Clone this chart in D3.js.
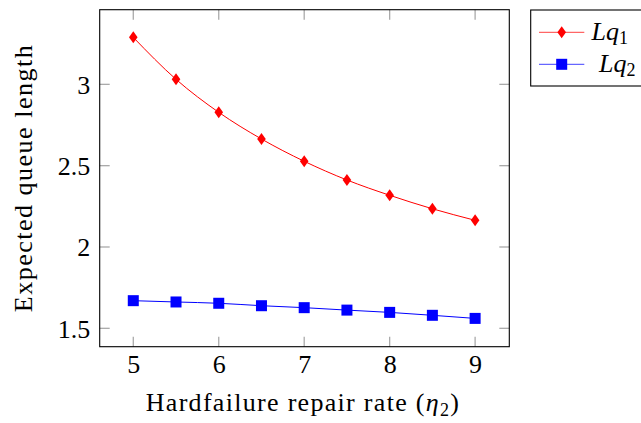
<!DOCTYPE html>
<html>
<head>
<meta charset="utf-8">
<script src="https://cdn.jsdelivr.net/npm/d3@7"></script>
<style>
  html, body { margin: 0; padding: 0; background: #fff; }
  svg { display: block; }
  text { font-family: "Liberation Serif", "DejaVu Serif", serif; fill: #000; }
</style>
</head>
<body>
<svg id="chart" width="641" height="423"></svg>
<script>
const xValues = [5, 5.5, 6, 6.5, 7, 7.5, 8, 8.5, 9];
const lq1 = [3.289, 3.031, 2.828, 2.664, 2.527, 2.412, 2.318, 2.235, 2.164];
const lq2 = [1.670, 1.662, 1.654, 1.639, 1.627, 1.612, 1.598, 1.580, 1.561];
const xTicks = [5, 6, 7, 8, 9];
const yTicks = [1.5, 2, 2.5, 3];
const seriesNames = ["Lq1", "Lq2"];

(function () {
const svg = d3.select("#chart");
const pLeft = 99.7, pRight = 509.3, pTop = 9.7, pBottom = 346.7;

const x = d3.scaleLinear().domain([4.607, 9.4]).range([pLeft, pRight]);
const y = d3.scaleLinear().domain([1.387, 3.459]).range([pBottom, pTop]);

const tickColor = "#aaaaaa";
const tickLen = 10;

const g = svg.append("g");
xTicks.forEach(t => {
  g.append("line").attr("x1", x(t)).attr("x2", x(t)).attr("y1", pBottom).attr("y2", pBottom - tickLen)
    .attr("stroke", tickColor).attr("stroke-width", 1.3);
  g.append("line").attr("x1", x(t)).attr("x2", x(t)).attr("y1", pTop).attr("y2", pTop + tickLen)
    .attr("stroke", tickColor).attr("stroke-width", 1.3);
});
yTicks.forEach(t => {
  g.append("line").attr("x1", pLeft).attr("x2", pLeft + tickLen).attr("y1", y(t)).attr("y2", y(t))
    .attr("stroke", tickColor).attr("stroke-width", 1.3);
  g.append("line").attr("x1", pRight).attr("x2", pRight - tickLen).attr("y1", y(t)).attr("y2", y(t))
    .attr("stroke", tickColor).attr("stroke-width", 1.3);
});

const xAxis = d3.axisBottom(x).tickValues(xTicks).tickSize(0).tickPadding(0).tickFormat(d3.format("d"));
const xa = svg.append("g").attr("transform", `translate(0,${pBottom})`).call(xAxis);
xa.select(".domain").remove();
xa.selectAll("text").attr("font-size", 26).attr("fill", "#000").attr("dy", null).attr("y", 26.5);

const yAxis = d3.axisLeft(y).tickValues(yTicks).tickSize(0).tickPadding(0).tickFormat(d => String(d));
const ya = svg.append("g").attr("transform", `translate(${pLeft - 9.5},0)`).call(yAxis);
ya.select(".domain").remove();
ya.selectAll("text").attr("font-size", 26).attr("fill", "#000").attr("dy", null).attr("y", 9);

svg.append("rect").attr("x", pLeft).attr("y", pTop).attr("width", pRight - pLeft).attr("height", pBottom - pTop)
  .attr("fill", "none").attr("stroke", "#000").attr("stroke-width", 1.1);

const line = d3.line().x((d, i) => x(xValues[i])).y(d => y(d)).curve(d3.curveMonotoneX);

svg.append("path").datum(lq1).attr("d", line).attr("fill", "none").attr("stroke", "#ff0000").attr("stroke-width", 1);
const diamond = (cx, cy) => `M${cx},${cy - 6}L${cx + 4.3},${cy}L${cx},${cy + 6}L${cx - 4.3},${cy}Z`;
svg.append("g").selectAll("path").data(lq1).join("path")
  .attr("d", (d, i) => diamond(x(xValues[i]), y(d))).attr("fill", "#ff0000");

svg.append("path").datum(lq2).attr("d", line).attr("fill", "none").attr("stroke", "#0000ff").attr("stroke-width", 1);
svg.append("g").selectAll("rect").data(lq2).join("rect")
  .attr("x", (d, i) => x(xValues[i]) - 5.5).attr("y", d => y(d) - 5.5)
  .attr("width", 11).attr("height", 11).attr("fill", "#0000ff");

const xl = svg.append("text").attr("x", 303).attr("y", 411)
  .attr("text-anchor", "middle").attr("font-size", 26).attr("letter-spacing", 1.3);
xl.append("tspan").text("Hardfailure repair rate (");
xl.append("tspan").attr("font-style", "italic").text("η");
xl.append("tspan").attr("font-size", 18).attr("dy", 5).text("2");
xl.append("tspan").attr("dy", -5).text(")");

svg.append("text").attr("transform", `translate(31.5,178) rotate(-90)`)
  .attr("text-anchor", "middle").attr("font-size", 26).attr("letter-spacing", 1.5).text("Expected queue length");

const lg = svg.append("g");
lg.append("rect").attr("x", 530.7).attr("y", 10).attr("width", 115).attr("height", 76)
  .attr("fill", "#fff").attr("stroke", "#000").attr("stroke-width", 1.1);
const legendRows = [
  { name: seriesNames[0], color: "#ff0000", y: 32.3, marker: "diamond", tx: 591.5 },
  { name: seriesNames[1], color: "#0000ff", y: 64.3, marker: "square", tx: 599 }
];
legendRows.forEach(r => {
  lg.append("line").attr("x1", 539).attr("x2", 584.3).attr("y1", r.y).attr("y2", r.y)
    .attr("stroke", r.color).attr("stroke-opacity", 0.6).attr("stroke-width", 1.3);
  if (r.marker === "diamond") {
    lg.append("path").attr("d", diamond(561.7, r.y)).attr("fill", r.color);
  } else {
    lg.append("rect").attr("x", 561.7 - 5.5).attr("y", r.y - 5.5).attr("width", 11).attr("height", 11).attr("fill", r.color);
  }
  const t = lg.append("text").attr("x", r.tx).attr("y", r.y + 8).attr("font-size", 26).attr("font-style", "italic");
  t.append("tspan").text(r.name.slice(0, 2));
  t.append("tspan").attr("font-size", 18).attr("dy", 4).attr("font-style", "normal").text(r.name.slice(2));
});
})();
</script>
</body>
</html>
